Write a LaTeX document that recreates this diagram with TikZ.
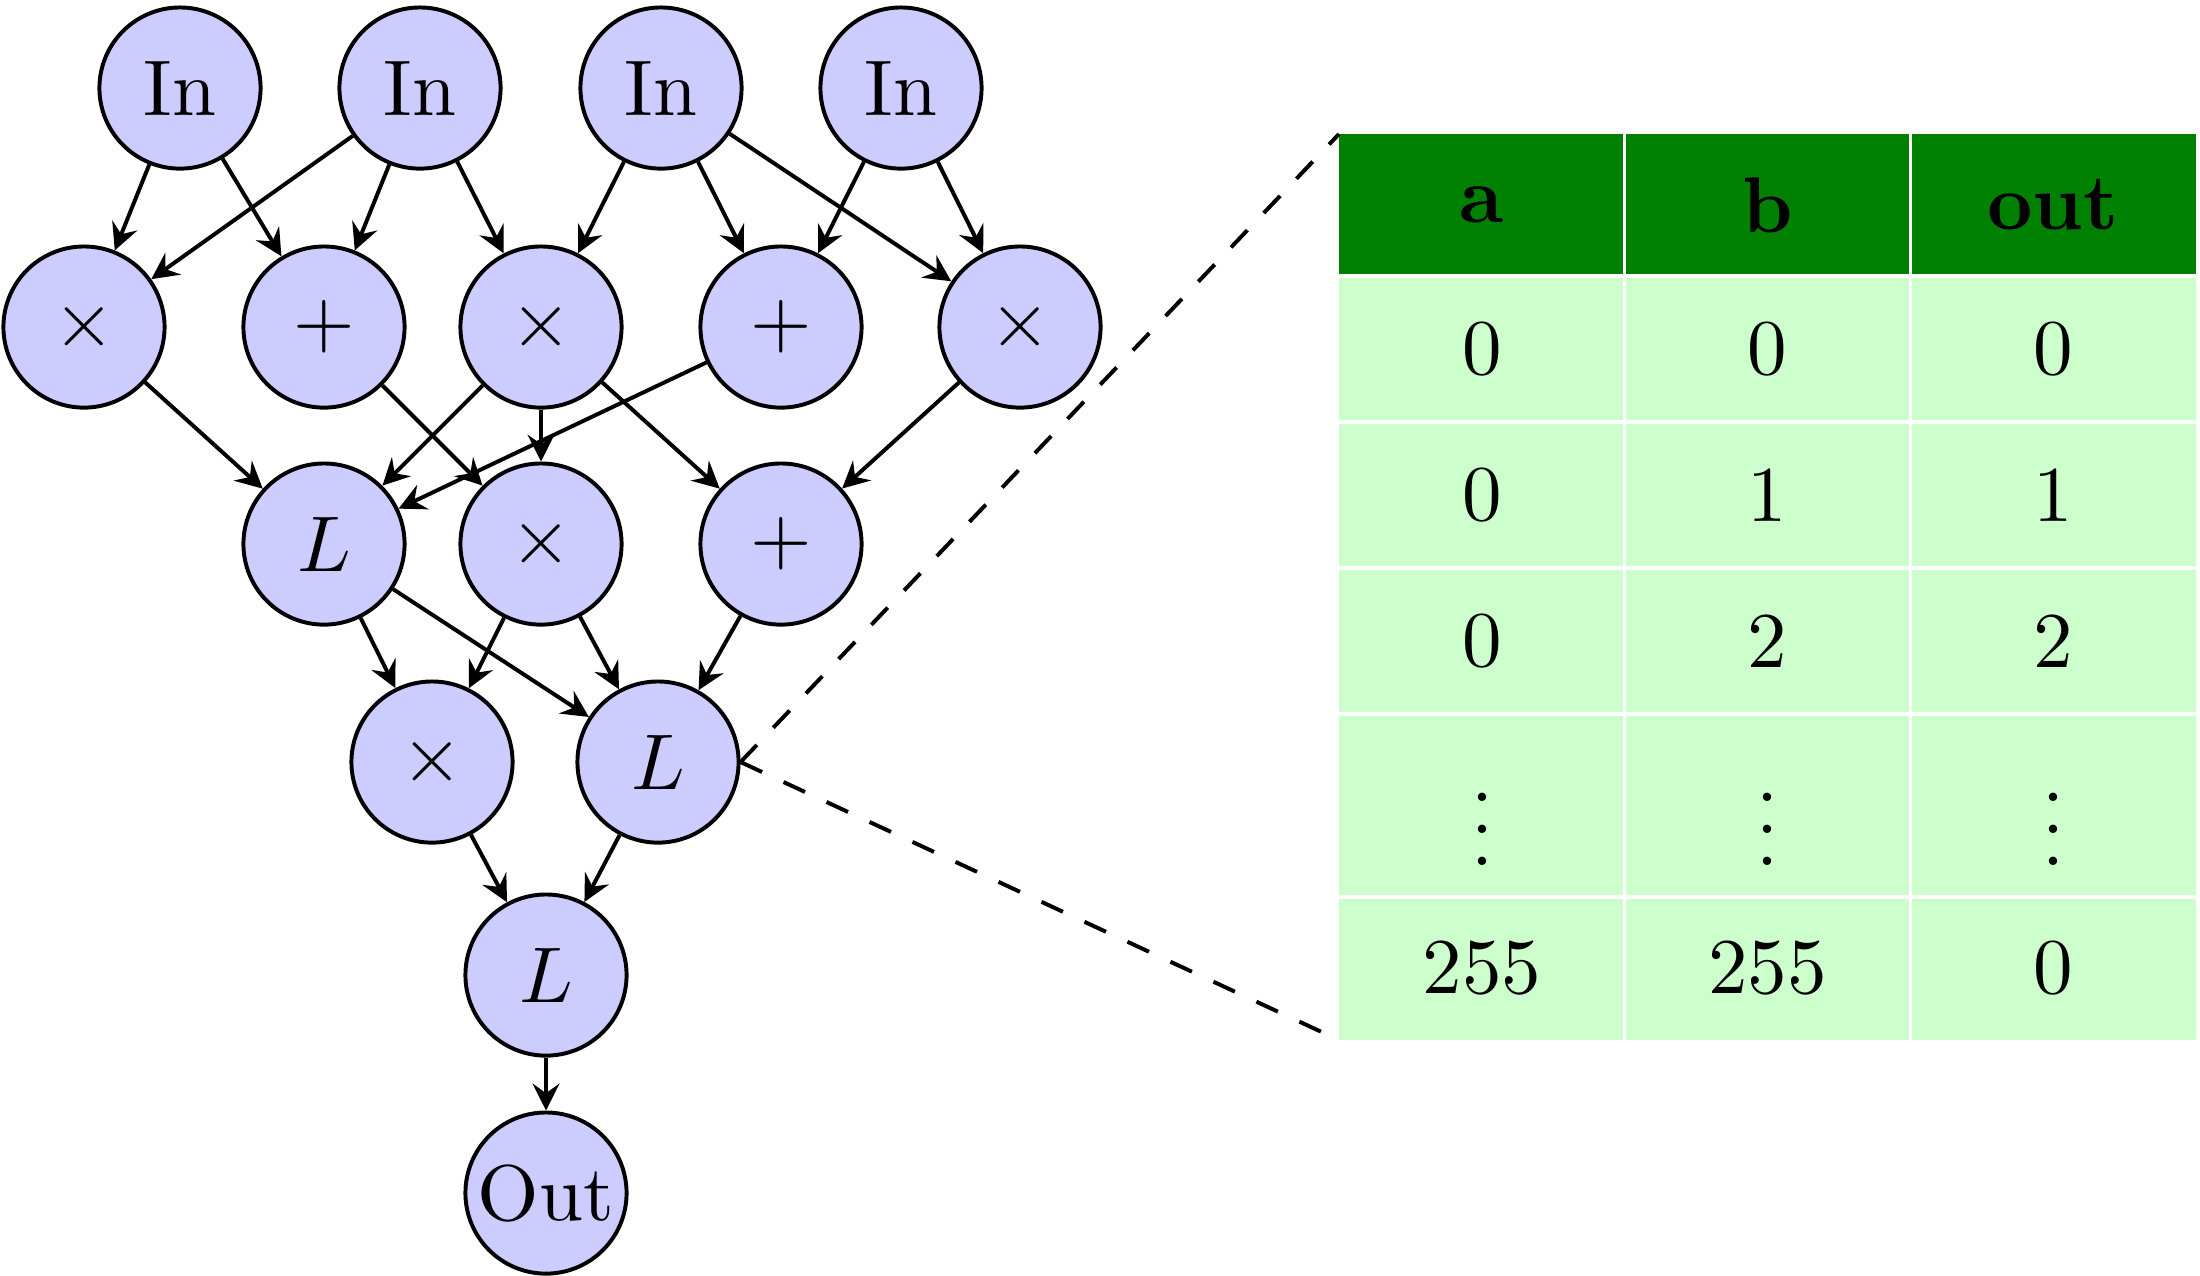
\documentclass[tikz,border=0pt]{standalone}
\usetikzlibrary{arrows.meta}
\begin{document}
\begin{tikzpicture}[x=0.12658pt,y=-0.12658pt,
  op/.style={circle,draw,line width=0.5pt,fill=blue!20,minimum size=20.4pt,inner sep=0.5pt},
  flow/.style={-{Stealth[length=3.4pt,width=3.4pt,inset=1.2pt]},line width=0.5pt},
  zoomline/.style={dashed,line width=0.5pt},
  gridline/.style={white,line width=0.4pt},
  cell/.style={inner sep=0pt}]
\useasboundingbox (0,0) rectangle (2200,1275);

% operation graph
\node[op] (i1) at (180,88) {In};
\node[op] (i2) at (420,88) {In};
\node[op] (i3) at (661,88) {In};
\node[op] (i4) at (901,88) {In};

\node[op] (m1) at (84,327) {$\times$};
\node[op] (p1) at (324,327) {$+$};
\node[op] (m2) at (541,327) {$\times$};
\node[op] (p2) at (781,327) {$+$};
\node[op] (m3) at (1020,327) {$\times$};

\node[op] (l1) at (324,544) {$L$};
\node[op] (x2) at (541,544) {$\times$};
\node[op] (s3) at (781,544) {$+$};

\node[op] (x4) at (432,762) {$\times$};
\node[op] (l4) at (658,762) {$L$};

\node[op] (l5) at (546,975) {$L$};
\node[op] (out) at (546,1193) {Out};

\foreach \a/\b in {i1/m1,i1/p1,i2/m1,i2/p1,i2/m2,i3/m2,i3/p2,i3/m3,i4/p2,i4/m3,
  m1/l1,p1/x2,m2/l1,m2/x2,m2/s3,p2/l1,m3/s3,
  l1/x4,l1/l4,x2/x4,x2/l4,s3/l4,x4/l5,l4/l5,l5/out}
  \draw[flow] (\a) -- (\b);

% lookup table
\fill[green!50!black] (1339,134) rectangle (2196,276);
\fill[green!20] (1339,276) rectangle (2196,1040);
\foreach \xx in {1624.7,1910.3} \draw[gridline] (\xx,134) -- (\xx,1040);
\foreach \yy in {276,422,568,714,897} \draw[gridline] (1339,\yy) -- (2196,\yy);

\coordinate (tl) at (1339,134);
\coordinate (bl) at (1339,1040);

\node[cell] (ha) at (1482,205) {\textbf{a}};
\node[cell] (hb) at (1767.5,205) {\textbf{b}};
\node[cell] (hout) at (2053,205) {\textbf{out}};

\node[cell] (r1a) at (1482,349) {0};
\node[cell] (r1b) at (1767.5,349) {0};
\node[cell] (r1o) at (2053,349) {0};
\node[cell] (r2a) at (1482,495) {0};
\node[cell] (r2b) at (1767.5,495) {1};
\node[cell] (r2o) at (2053,495) {1};
\node[cell] (r3a) at (1482,641) {0};
\node[cell] (r3b) at (1767.5,641) {2};
\node[cell] (r3o) at (2053,641) {2};
\node[cell] (r4a) at (1482,805.5) {$\vdots$};
\node[cell] (r4b) at (1767.5,805.5) {$\vdots$};
\node[cell] (r4o) at (2053,805.5) {$\vdots$};
\node[cell] (r5a) at (1482,968.5) {255};
\node[cell] (r5b) at (1767.5,968.5) {255};
\node[cell] (r5o) at (2053,968.5) {0};

\draw[zoomline] (l4.east) -- (tl);
\draw[zoomline] (l4.east) -- (bl);
\end{tikzpicture}
\end{document}
